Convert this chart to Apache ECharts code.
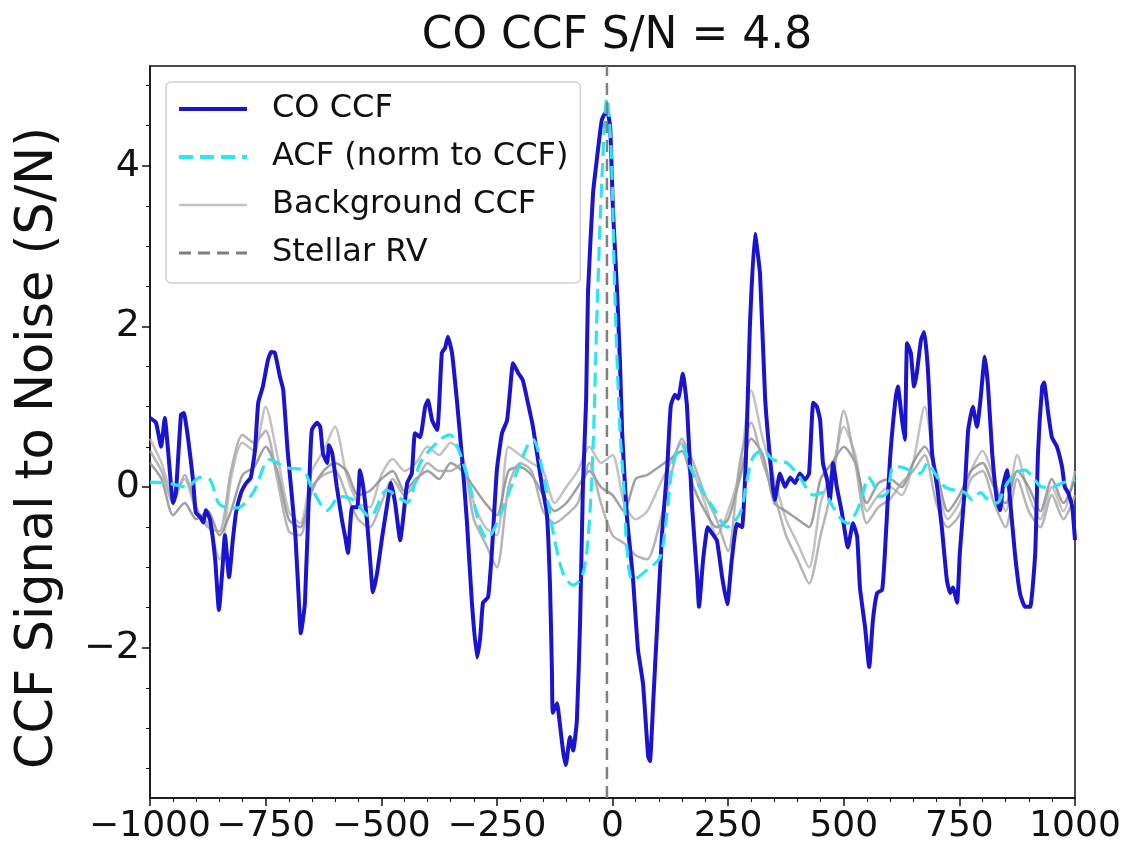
<!DOCTYPE html>
<html>
<head>
<meta charset="utf-8">
<script src="https://cdn.jsdelivr.net/npm/echarts@6/dist/echarts.min.js"></script>
<style>
  html, body { margin: 0; padding: 0; background: #fff; }
  #chart { width: 1133px; height: 854px; }
</style>
</head>
<body>
<div id="chart"></div>
<script>
// CO cross-correlation (S/N) vs velocity (km/s)
const coVel = [-1000,-987,-976,-968,-961,-950,-944,-933,-927,-918,-907,-901,-892,-885,-879,-870,-859,-851,-842,-838,
  -829,-821,-814,-803,-792,-782,-773,-766,-756,-745,-738,-730,-719,-712,-702,-686,-676,-674,-665,-654,
  -650,-639,-632,-626,-617,-613,-606,-596,-585,-578,-572,-563,-552,-546,-539,-531,-524,-518,-509,-498,
  -488,-479,-470,-459,-453,-444,-434,-427,-416,-405,-399,-390,-379,-369,-362,-356,-347,-336,-325,-315,
  -304,-293,-286,-280,-269,-261,-250,-239,-228,-222,-215,-204,-194,-183,-172,-161,-152,-142,-135,-131,
  -129,-120,-114,-107,-101,-92,-85,-77,-70,-64,-57,-53,-42,-34,-23,-12,-5,1,10,16,
  21,31,44,55,66,77,81,88,96,107,118,126,135,142,152,161,172,183,187,196,
  206,217,226,237,248,258,269,280,289,297,308,319,330,345,351,362,373,384,395,405,
  416,425,434,442,449,455,464,470,477,485,496,509,520,529,535,546,555,563,572,583,
  589,600,611,617,626,632,637,645,652,658,667,674,682,691,702,712,723,730,736,745,
  751,762,769,779,788,795,805,812,821,831,838,844,853,859,870,881,892,903,914,920,
  929,933,942,950,961,972,978,985,994,1000];
const coSN = [0.86,0.80,0.50,0.86,0.46,-0.20,-0.07,0.90,0.92,0.62,0.09,-0.32,-0.37,-0.44,-0.29,-0.41,-0.91,-1.53,-0.91,-0.60,
  -1.12,-0.66,-0.32,-0.07,0.05,0.12,0.46,1.05,1.25,1.58,1.68,1.67,1.37,1.21,0.42,-0.57,-1.66,-1.82,-1.44,0.30,
  0.71,0.80,0.75,0.42,0.30,0.52,0.42,0.00,-0.41,-0.62,-0.82,-0.25,-0.25,0.21,0.00,-0.41,-0.91,-1.31,-1.07,-0.62,
  -0.25,0.05,-0.20,-0.66,-0.41,0.05,0.17,0.67,0.62,1.00,1.08,0.83,0.71,1.67,1.73,1.87,1.67,1.05,0.34,-0.41,
  -1.44,-2.12,-1.87,-1.44,-1.37,-0.82,0.21,0.67,0.83,1.17,1.54,1.42,1.33,1.05,0.75,0.34,0.00,-0.32,-1.25,-2.28,
  -2.81,-2.69,-2.94,-3.28,-3.46,-3.11,-3.28,-2.90,-1.66,0.00,1.08,2.42,3.66,4.07,4.57,4.69,4.48,3.45,2.42,1.58,
  0.66,-0.36,-1.12,-2.02,-2.45,-3.35,-3.41,-2.68,-1.79,-0.59,0.21,1.01,1.15,1.10,1.41,1.01,-0.24,-1.12,-1.49,-0.90,
  -0.50,-0.59,-0.67,-1.12,-1.46,-0.90,-0.46,-0.50,0.44,1.99,3.15,2.65,1.10,0.09,-0.16,0.17,0.00,0.12,0.05,0.17,
  0.09,0.17,1.05,1.00,0.83,0.30,0.09,-0.16,0.30,0.00,-0.32,-0.75,-0.45,-0.62,-1.25,-1.74,-2.24,-1.66,-1.32,-1.28,
  -0.82,0.34,1.05,1.25,0.83,0.59,1.79,1.67,1.25,1.42,1.83,1.93,1.46,0.42,0.00,-0.50,-1.16,-1.32,-1.25,-1.44,
  -0.82,0.00,0.71,1.00,0.75,1.05,1.62,1.25,0.42,-0.16,-0.29,0.00,0.21,-0.12,-0.82,-1.32,-1.49,-1.49,-0.82,0.42,
  1.25,1.30,0.92,0.62,0.50,0.25,0.00,-0.07,-0.25,-0.66];

// auto-correlation, normalised to the CCF peak
const acfVel = [-1000,-963,-920,-892,-870,-849,-812,-777,-741,-704,-669,-648,-617,-589,-561,-524,-488,-444,-416,-373,
  -351,-330,-308,-286,-271,-250,-222,-185,-172,-150,-129,-107,-85,-66,-53,-42,-34,-23,-12,-3,
  5,16,25,31,44,75,103,118,131,150,168,189,217,248,276,291,304,325,347,377,
  405,434,455,477,496,509,529,542,553,563,578,594,607,622,643,665,682,697,719,741,
  762,778,795,812,831,849,870,892,909,929,950,972,1000];
const acfSN = [0.06,0.05,0.00,0.12,0.09,-0.22,-0.26,-0.07,0.34,0.24,0.21,-0.04,-0.29,-0.12,-0.16,-0.37,-0.04,-0.19,0.30,0.59,
  0.65,0.42,0.00,-0.50,-0.64,-0.45,-0.04,0.50,0.59,0.17,-0.54,-1.07,-1.22,-1.12,-0.66,0.50,2.08,3.82,4.84,4.20,
  2.42,0.71,-0.04,-0.75,-1.16,-1.03,-0.87,-0.32,0.30,0.52,0.25,0.00,-0.25,-0.50,-0.32,0.09,0.37,0.46,0.34,0.30,
  0.12,-0.10,-0.07,-0.25,-0.41,-0.45,-0.29,-0.07,0.12,0.05,-0.12,-0.07,0.25,0.25,0.21,0.17,0.30,0.17,0.00,-0.04,
  -0.07,-0.16,-0.07,-0.16,-0.20,0.00,0.17,0.21,0.12,0.00,0.00,0.05,0.09];

// background CCFs
const bgVel = [-1000,-975,-950,-925,-900,-875,-850,-825,-800,-775,-750,-725,-700,-675,-650,-625,-600,-575,-550,-525,
  -500,-475,-450,-425,-400,-375,-350,-325,-300,-275,-250,-225,-200,-175,-150,-125,-100,-75,-50,-25,
  0,25,50,75,100,125,150,175,200,225,250,275,300,325,350,375,400,425,450,475,
  500,525,550,575,600,625,650,675,700,725,750,775,800,825,850,875,900,925,950,975,1000];
const bgA = [0.6,0.3,-0.1,0.1,-0.3,-0.45,-0.9,0.1,0.55,0.45,1.0,0.4,-0.3,-0.45,0.2,0.45,0.75,0.15,-0.2,-0.25,
  0.15,0.35,0.2,0.3,0.5,0.4,0.55,0.4,-0.2,-0.5,-0.6,0.5,0.4,0.3,0.2,-0.2,0.0,0.2,0.5,0.3,
  0.4,-0.2,-0.4,-0.3,0.0,0.3,0.55,0.2,-0.2,-0.6,-0.3,0.2,1.2,0.6,0.1,-0.4,-0.7,-1.0,-0.2,0.2,
  0.75,0.4,-0.3,-0.1,0.0,-0.1,0.3,1.0,0.1,-0.4,-0.2,0.2,0.45,0.1,-0.3,0.4,-0.1,-0.4,0.0,-0.3,0.2];
const bgB = [0.3,0.1,-0.35,-0.2,-0.4,-0.3,-0.6,-0.3,0.15,0.25,0.5,0.2,-0.4,-0.5,-0.05,0.2,0.3,0.2,-0.1,-0.05,
  0.1,0.2,-0.05,0.1,0.2,0.1,0.3,0.2,0.0,-0.2,-0.35,0.2,0.25,0.15,-0.1,-0.3,-0.2,0.0,0.2,0.0,
  -0.1,-0.3,0.1,0.15,0.25,0.35,0.45,0.0,-0.3,-0.5,-0.4,0.1,0.6,0.4,-0.2,-0.3,-0.4,-0.5,0.1,0.3,
  0.5,0.3,-0.2,0.05,0.1,0.0,0.3,0.5,0.2,-0.3,-0.1,0.2,0.3,0.0,-0.2,0.2,0.0,-0.3,0.1,-0.2,0.1];
const bgC = [0.45,0.2,-0.2,0.15,-0.25,-0.5,-0.55,0.2,0.65,0.55,0.7,0.1,-0.55,-0.6,0.0,0.15,0.2,-0.1,-0.4,-0.5,
  -0.2,0.1,-0.1,0.05,0.3,0.2,0.2,0.3,-0.4,-0.7,-1.0,0.0,0.3,0.2,-0.3,-0.45,-0.35,-0.2,0.3,-0.2,
  -0.6,-0.7,-0.85,-0.9,-0.5,0.1,0.6,0.3,-0.1,-0.4,-0.8,0.3,0.8,0.3,-0.1,-0.6,-0.9,-1.2,-0.6,0.0,
  0.95,0.3,-0.45,-0.25,-0.15,0.05,0.2,0.4,-0.2,-0.5,-0.35,0.1,0.2,-0.2,-0.5,0.1,-0.3,-0.5,-0.1,-0.4,-0.1];

const stellarRV = -12;
const yMin = -3.87, yMax = 5.24;
const yMajorTicks = [-2, 0, 2, 4];
const yMinorTicks = [-3.5,-3,-2.5,-1.5,-1,-0.5,0.5,1,1.5,2.5,3,3.5,4.5,5];

const FONT = 'DejaVu Sans';
const INK = '#111';
const BLUE = '#1a14cf', CYAN = '#2ee4f2', RVGREY = '#808080';

function pairs(xs, ys) {
  const out = [];
  for (let i = 0; i < Math.min(xs.length, ys.length); i++) out.push([xs[i], ys[i]]);
  return out;
}
const minusFmt = v => String(v).replace('-', '\u2212');

function bgSeries(vals, color) {
  return {
    name: 'Background CCF', type: 'line', data: pairs(bgVel, vals),
    symbol: 'none', smooth: 0.25, z: 1,
    lineStyle: { color: color, width: 2.5, opacity: 0.8 },
    itemStyle: { color: color }
  };
}

const chart = echarts.init(document.getElementById('chart'));
chart.setOption({
  animation: false,
  backgroundColor: '#fff',
  title: {
    text: 'CO CCF S/N = 4.8',
    left: 612, top: 10, textAlign: 'center',
    textStyle: { fontFamily: FONT, fontSize: 44, fontWeight: 'normal', color: INK }
  },
  legend: {
    data: [
      { name: 'CO CCF', lineStyle: { width: 4 } },
      { name: 'ACF (norm to CCF)', lineStyle: { width: 4, type: [14, 7] } },
      { name: 'Background CCF', lineStyle: { width: 2.5 } },
      { name: 'Stellar RV', lineStyle: { width: 3, type: [12, 7] } }
    ],
    orient: 'vertical', left: 166, top: 82,
    itemWidth: 68, itemHeight: 4, itemGap: 16,
    itemStyle: { opacity: 0 },
    padding: [11, 12, 14, 11],
    backgroundColor: '#fff', borderColor: '#d0d0d0', borderWidth: 1.5, borderRadius: 5,
    textStyle: { fontFamily: FONT, fontSize: 32, color: INK, padding: [0, 0, 0, 20] }
  },
  grid: {
    left: 150, right: 58, top: 66, bottom: 56,
    show: true, borderColor: INK, borderWidth: 1.5
  },
  xAxis: {
    type: 'value', min: -1000, max: 1000, interval: 250,
    axisLine: { show: true, onZero: false, lineStyle: { color: INK, width: 1.5 } },
    axisTick: { show: true, length: 8, lineStyle: { color: INK, width: 1.5 } },
    minorTick: { show: true, splitNumber: 5, length: 4, lineStyle: { color: INK, width: 1 } },
    splitLine: { show: false },
    axisLabel: {
      fontFamily: FONT, fontSize: 36, color: INK, margin: 11, formatter: minusFmt,
      showMinLabel: true, showMaxLabel: true, hideOverlap: false
    }
  },
  yAxis: [{
    type: 'value', min: yMin, max: yMax,
    name: 'CCF Signal to Noise (S/N)', nameLocation: 'middle', nameGap: 86,
    nameTextStyle: { fontFamily: FONT, fontSize: 51, color: INK, padding: [0, 32, 0, 0] },
    axisLine: { show: true, onZero: false, lineStyle: { color: INK, width: 1.5 } },
    axisTick: { show: true, length: 8, customValues: yMajorTicks, lineStyle: { color: INK, width: 1.5 } },
    axisLabel: { customValues: yMajorTicks, fontFamily: FONT, fontSize: 38, color: INK, margin: 10, formatter: minusFmt },
    splitLine: { show: false }
  }, {
    type: 'value', min: yMin, max: yMax, position: 'left',
    axisLine: { show: false, onZero: false },
    axisTick: { show: true, length: 4, customValues: yMinorTicks, lineStyle: { color: INK, width: 1 } },
    axisLabel: { show: false },
    splitLine: { show: false }
  }],
  series: [
    bgSeries(bgA, '#b3b3b3'),
    bgSeries(bgB, '#888888'),
    bgSeries(bgC, '#a2a2a2'),
    {
      name: 'CO CCF', type: 'line', data: pairs(coVel, coSN),
      symbol: 'none', smooth: 0.15, z: 3,
      lineStyle: { color: BLUE, width: 4 },
      itemStyle: { color: BLUE }
    },
    {
      name: 'ACF (norm to CCF)', type: 'line', data: pairs(acfVel, acfSN),
      symbol: 'none', smooth: 0.3, z: 4,
      lineStyle: { color: CYAN, width: 3.2, type: [14, 7] },
      itemStyle: { color: CYAN }
    },
    {
      name: 'Stellar RV', type: 'line', data: [[stellarRV, yMin], [stellarRV, yMax]],
      symbol: 'none', z: 5,
      lineStyle: { color: RVGREY, width: 2.5, type: [12, 7] },
      itemStyle: { color: RVGREY }
    }
  ]
});
</script>
</body>
</html>
